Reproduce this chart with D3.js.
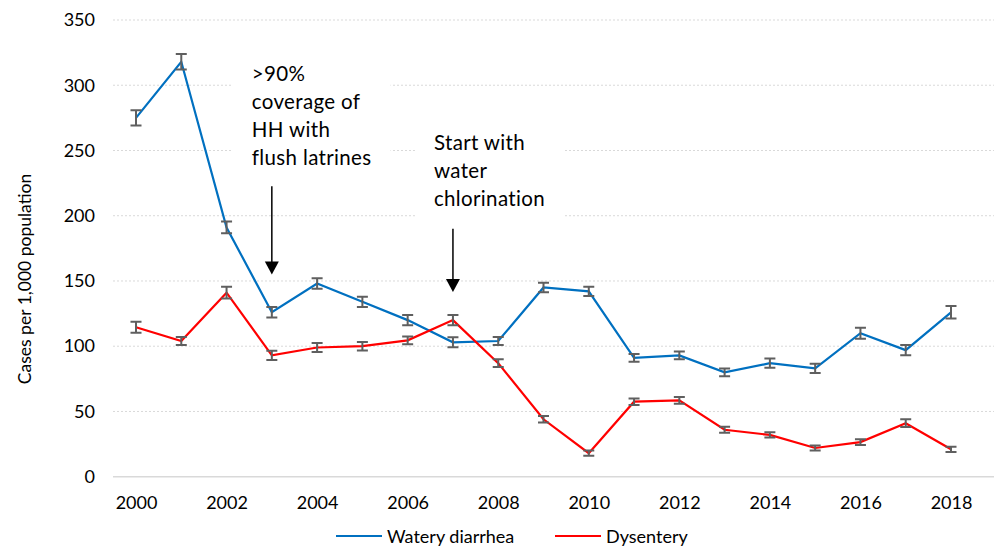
<!DOCTYPE html>
<html>
<head>
<meta charset="utf-8">
<script src="https://cdn.jsdelivr.net/npm/d3@7"></script>
<style>
  body { margin: 0; background: #fff; }
  svg { display: block; font-family: Lato, "Noto Sans", sans-serif; }
</style>
</head>
<body>
<script>
// data
var years = [2000, 2001, 2002, 2003, 2004, 2005, 2006, 2007, 2008, 2009,
             2010, 2011, 2012, 2013, 2014, 2015, 2016, 2017, 2018];
var watery = [275, 318, 191, 126, 148, 134, 120, 103, 104, 145,
              142, 91, 93, 80, 87, 83, 110, 97, 126];
var wateryErr = [5.8, 6, 4.5, 4, 4, 4, 4, 3.8, 3, 3.6,
                 3.6, 3, 3, 3, 3.5, 3.5, 4.2, 4, 4.8];
var dysentery = [114.5, 104, 141, 93, 99, 100, 104.5, 120, 87, 44,
                 18, 57.5, 58.5, 36, 32, 22, 26.5, 41, 21];
var dysenteryErr = [4.2, 3, 4.5, 3.5, 3.5, 3.3, 3, 4, 3, 2.5,
                    2, 2.5, 2.5, 2.3, 2, 2, 2.2, 3, 2];
var yTicks = [0, 50, 100, 150, 200, 250, 300, 350];
var xTicks = [2000, 2002, 2004, 2006, 2008, 2010, 2012, 2014, 2016, 2018];
var seriesNames = ["Watery diarrhea", "Dysentery"];
var seriesColors = ["#0070C0", "#FF0000"];

// annotations: year of arrow, arrow top value, arrow tip value, text lines
var notes = [
  {year: 2003, top: 222.5, tip: 155, lines: [">90%", "coverage of", "HH with", "flush latrines"]},
  {year: 2007, top: 190, tip: 141.5, lines: ["Start with", "water", "chlorination"]}
];

var W = 994, H = 547;
var margin = {top: 20, right: 0, bottom: 70, left: 113};
var plotRight = W;

var svg = d3.select("body").append("svg")
    .attr("width", W)
    .attr("height", H);

var x = d3.scaleLinear().domain([2000, 2018]).range([136, 951]);
var y = d3.scaleLinear().domain([0, 350]).range([476.7, 20]);

// gridlines
svg.append("g")
  .selectAll("line")
  .data(yTicks.filter(function(d) { return d > 0; }))
  .enter().append("line")
    .attr("x1", margin.left)
    .attr("x2", plotRight)
    .attr("y1", function(d) { return y(d); })
    .attr("y2", function(d) { return y(d); })
    .attr("stroke", "#d9d9d9")
    .attr("stroke-width", 1)
    .attr("stroke-dasharray", "2,2");

// y axis labels
var yAxis = svg.append("g")
    .attr("transform", "translate(" + margin.left + ",0)")
    .call(d3.axisLeft(y).tickValues(yTicks).tickSize(0).tickPadding(18));
yAxis.select(".domain").remove();
yAxis.selectAll("text")
    .attr("font-size", "18px")
    .attr("font-family", "Lato")
    .attr("fill", "#000");

// x axis
var xAxis = svg.append("g")
    .attr("transform", "translate(0," + y(0) + ")")
    .call(d3.axisBottom(x).tickValues(xTicks).tickFormat(d3.format("d")).tickSize(0).tickPadding(20));
xAxis.select(".domain").remove();
xAxis.append("line")
    .attr("x1", margin.left)
    .attr("x2", plotRight)
    .attr("stroke", "#d9d9d9")
    .attr("stroke-width", 1.5);
xAxis.selectAll("text")
    .attr("font-size", "18px")
    .attr("font-family", "Lato")
    .attr("fill", "#000");

// y axis title
svg.append("text")
    .attr("transform", "translate(31," + 279 + ")rotate(-90)")
    .attr("text-anchor", "middle")
    .attr("font-size", "17.5px")
    .text("Cases per 1,000 population");

// annotation boxes and arrows
notes.forEach(function(n, i) {
  var g = svg.append("g");
  var bg = g.append("rect").attr("fill", "#fff");
  var tx = i === 0 ? x(2003) - 20 : x(2007) - 19;
  var t = g.append("text")
      .attr("font-size", "20.5px")
      .attr("letter-spacing", "0.35px")
      .attr("fill", "#000");
  var baseY = i === 0 ? 81 : 150;
  n.lines.forEach(function(l, k) {
    t.append("tspan").attr("x", tx).attr("y", baseY + k * 28).text(l);
  });
  var bb = t.node().getBBox();
  bg.attr("x", bb.x - 19).attr("y", bb.y - 10)
    .attr("width", bb.width + 38).attr("height", bb.height + 20);

  var ax = x(n.year);
  svg.append("line")
    .attr("x1", ax).attr("x2", ax)
    .attr("y1", y(n.top)).attr("y2", y(n.tip) - 12)
    .attr("stroke", "#000").attr("stroke-width", 1.5);
  svg.append("path")
    .attr("d", "M" + (ax - 7) + "," + (y(n.tip) - 13) + "L" + (ax + 7) + "," + (y(n.tip) - 13) + "L" + ax + "," + y(n.tip) + "Z")
    .attr("fill", "#000");
});

// lines
var line = d3.line()
    .x(function(d, i) { return x(years[i]); })
    .y(function(d) { return y(d); });

[watery, dysentery].forEach(function(vals, s) {
  svg.append("path")
    .datum(vals)
    .attr("fill", "none")
    .attr("stroke", seriesColors[s])
    .attr("stroke-width", 2.2)
    .attr("d", line);
});

// error bars
[[watery, wateryErr], [dysentery, dysenteryErr]].forEach(function(p) {
  var vals = p[0], errs = p[1];
  var g = svg.append("g")
      .attr("stroke", "#5f5f5f")
      .attr("stroke-width", 2)
      .attr("fill", "none");
  years.forEach(function(yr, i) {
    var cx = x(yr), hi = y(vals[i] + errs[i]), lo = y(vals[i] - errs[i]);
    g.append("path")
      .attr("d", "M" + cx + "," + hi + "V" + lo +
                 "M" + (cx - 5.5) + "," + hi + "H" + (cx + 5.5) +
                 "M" + (cx - 5.5) + "," + lo + "H" + (cx + 5.5));
  });
});

// legend
var legend = svg.append("g").attr("transform", "translate(0,536)");
var legX = [336, 555];
seriesNames.forEach(function(name, i) {
  legend.append("line")
    .attr("x1", legX[i]).attr("x2", legX[i] + 46)
    .attr("stroke", seriesColors[i]).attr("stroke-width", 2);
  legend.append("text")
    .attr("x", legX[i] + 51)
    .attr("y", 7)
    .attr("font-size", "18px")
    .text(name);
});
</script>
</body>
</html>
